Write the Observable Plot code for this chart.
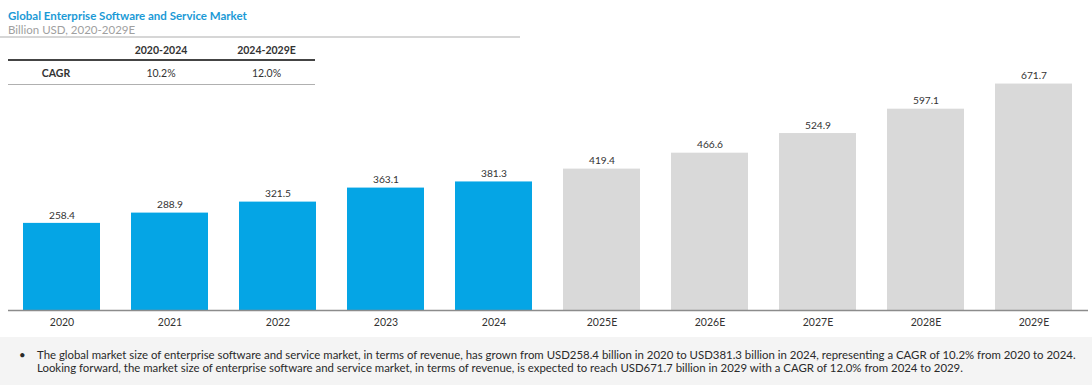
<!DOCTYPE html>
<html>
<head>
<meta charset="utf-8">
<script src="https://cdn.jsdelivr.net/npm/d3@7"></script>
<script src="https://cdn.jsdelivr.net/npm/@observablehq/plot@0.6"></script>
<style>
  html, body { margin: 0; padding: 0; background: #fff; }
  body { width: 1092px; height: 385px; position: relative; overflow: hidden; font-family: Lato, "Open Sans", sans-serif; }
  #chart { position: absolute; left: 0; top: 0; }
  .title { position: absolute; left: 8px; top: 9px; font-size: 11.5px; font-weight: bold; color: #1b9ad6; }
  .subtitle { position: absolute; left: 8px; top: 23px; font-size: 11.5px; color: #a0a0a0; }
  .subline { position: absolute; left: 0; top: 36px; width: 520px; height: 2px; background: #d6d6d6; }
  table.cagr { position: absolute; left: 8px; top: 40px; width: 307px; border-collapse: collapse; font-size: 10.5px; color: #333; table-layout: fixed; }
  table.cagr th, table.cagr td { text-align: center; padding: 0; }
  table.cagr th { height: 19px; font-weight: bold; border-bottom: 2px solid #444; }
  table.cagr td { height: 23px; border-bottom: 1px solid #b0b0b0; }
  table.cagr td.lab { font-weight: bold; }
  .footer { position: absolute; left: 0; top: 337px; width: 1092px; height: 48px; background: #f4f4f4; font-size: 11.4px; color: #2a2a2a; }
  .footer .bullet { position: absolute; left: 19px; top: 11px; line-height: 13px; }
  .footer .txt { position: absolute; left: 37px; top: 11px; line-height: 13px; white-space: nowrap; }
</style>
</head>
<body>
<div id="chart"></div>
<div class="title">Global Enterprise Software and Service Market</div>
<div class="subtitle">Billion USD, 2020-2029E</div>
<div class="subline"></div>
<table class="cagr" id="cagr"></table>
<div class="footer">
  <div class="bullet">•</div>
  <div class="txt">The global market size of enterprise software and service market, in terms of revenue, has grown from USD258.4 billion in 2020 to USD381.3 billion in 2024, representing a CAGR of 10.2% from 2020 to 2024.<br>Looking forward, the market size of enterprise software and service market, in terms of revenue, is expected to reach USD671.7 billion in 2029 with a CAGR of 12.0% from 2024 to 2029.</div>
</div>
<script>
const years = ["2020", "2021", "2022", "2023", "2024", "2025E", "2026E", "2027E", "2028E", "2029E"];
const values = [258.4, 288.9, 321.5, 363.1, 381.3, 419.4, 466.6, 524.9, 597.1, 671.7];
const kinds = ["Actual", "Actual", "Actual", "Actual", "Actual", "Estimate", "Estimate", "Estimate", "Estimate", "Estimate"];
const cagrPeriods = ["2020-2024", "2024-2029E"];
const cagrValues = ["10.2%", "12.0%"];

const data = years.map((y, i) => ({year: y, value: values[i], kind: kinds[i]}));

// CAGR table
const tbl = document.getElementById("cagr");
tbl.innerHTML =
  "<colgroup><col style='width:96px'><col style='width:114px'><col style='width:97px'></colgroup>" +
  "<tr><th></th>" + cagrPeriods.map(p => `<th>${p}</th>`).join("") + "</tr>" +
  "<tr><td class='lab'>CAGR</td>" + cagrValues.map(v => `<td>${v}</td>`).join("") + "</tr>";

const chart = Plot.plot({
  width: 1092,
  height: 337,
  marginTop: 74,
  marginBottom: 27,
  marginLeft: 8,
  marginRight: 4,
  style: {fontFamily: "Lato, 'Open Sans', sans-serif", fontSize: "10.5px", color: "#333", background: "transparent"},
  x: {domain: years, paddingInner: 0.287, paddingOuter: 0.1435, label: null, tickSize: 0, tickPadding: 8},
  y: {domain: [0, 700], axis: null},
  color: {domain: ["Actual", "Estimate"], range: ["#05a5e5", "#d9d9d9"]},
  marks: [
    Plot.barY(data, {x: "year", y: "value", fill: "kind"}),
    Plot.text(data, {x: "year", y: "value", text: d => d.value.toFixed(1), dy: -8, fill: "#333", fontSize: 10.2}),
    Plot.ruleY([0], {stroke: "#8c8c8c", strokeWidth: 1.5})
  ]
});
document.getElementById("chart").appendChild(chart);
</script>
</body>
</html>
